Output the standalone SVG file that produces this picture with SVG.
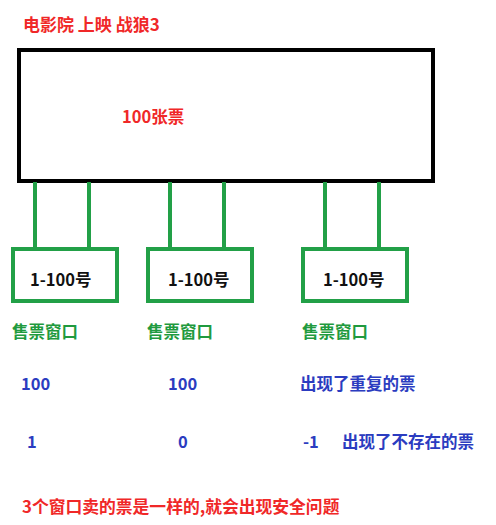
<svg xmlns="http://www.w3.org/2000/svg" width="496" height="525" viewBox="0 0 496 525">
<style>
text{font-family:"Noto Sans CJK SC","Noto Sans",sans-serif;font-weight:bold}
.red{fill:#f02828}
.blk{fill:#111}
.grn{fill:#1f9a3e}
.blu{fill:#2b3cc0}
.gline{stroke:#22a047;stroke-width:4;fill:none}
.gbox{stroke:#22a047;stroke-width:4;fill:#fff}
</style>
<rect width="496" height="525" fill="#fff"/>
<text class="red" x="23" y="31" font-size="17">电影院 上映 战狼3</text>
<g id="cinema">
<rect x="19" y="50" width="414" height="131" fill="#fff" stroke="#000" stroke-width="4"/>
<text class="red" x="122" y="123" font-size="16.5">100张票</text>
</g>
<g id="connectors">
<line class="gline" x1="35" y1="182" x2="35" y2="248"/>
<line class="gline" x1="89" y1="182" x2="89" y2="248"/>
<line class="gline" x1="170" y1="182" x2="170" y2="248"/>
<line class="gline" x1="224" y1="182" x2="224" y2="248"/>
<line class="gline" x1="325" y1="182" x2="325" y2="248"/>
<line class="gline" x1="379" y1="182" x2="379" y2="248"/>
</g>
<g id="window1">
<rect class="gbox" x="13" y="249" width="104" height="52"/>
<text class="blk" x="30" y="286" font-size="16.5">1-100号</text>
</g>
<g id="window2">
<rect class="gbox" x="148" y="249" width="104" height="52"/>
<text class="blk" x="168" y="286" font-size="16.5">1-100号</text>
</g>
<g id="window3">
<rect class="gbox" x="303" y="249" width="104" height="52"/>
<text class="blk" x="323" y="286" font-size="16.5">1-100号</text>
</g>
<text class="grn" x="12" y="338" font-size="16.5">售票窗口</text>
<text class="grn" x="147" y="338" font-size="16.5">售票窗口</text>
<text class="grn" x="302" y="338" font-size="16.5">售票窗口</text>
<text class="blu" x="21" y="390" font-size="16.5">100</text>
<text class="blu" x="168" y="390" font-size="16.5">100</text>
<text class="blu" x="300" y="390" font-size="16.5">出现了重复的票</text>
<text class="blu" x="27" y="448" font-size="16.5">1</text>
<text class="blu" x="178" y="448" font-size="16.5">0</text>
<text class="blu" x="303" y="448" font-size="16.5">-1</text>
<text class="blu" x="342" y="448" font-size="16.5">出现了不存在的票</text>
<text class="red" x="22" y="513" font-size="16.8">3个窗口卖的票是一样的,就会出现安全问题</text>
</svg>
